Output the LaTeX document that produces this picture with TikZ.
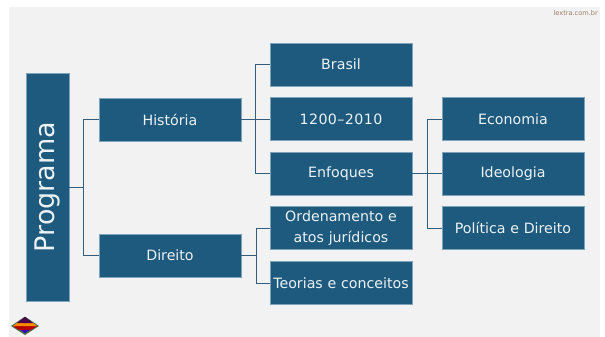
\documentclass[tikz,border=0pt]{standalone}
\usepackage{fontspec}
\setmainfont{DejaVu Sans}
\definecolor{boxblue}{HTML}{1D5A7E}
\definecolor{boxedge}{HTML}{7FA3BA}
\definecolor{linkblue}{HTML}{2F5F80}
\definecolor{bgray}{HTML}{F2F2F2}
\definecolor{lextra}{HTML}{9A7B5F}
\tikzset{
  x=1pt,y=-1pt,
  prog/.style={draw=boxedge,line width=0.6pt,fill=boxblue,text=white!92!boxblue,inner sep=0pt,align=center,font=\fontsize{14.2}{21.5}\selectfont},
  boxa/.style={prog,minimum width=142pt,minimum height=43pt,text width=141pt},
  link/.style={draw=linkblue,line width=0.9pt},
}
\begin{document}
\begin{tikzpicture}
\useasboundingbox (0,0) rectangle (605,337);
\fill[white] (0,0) rectangle (605,337);
\fill[bgray] (9,7) rectangle (600,337);
\node[font=\fontsize{6.6}{8}\selectfont,text=lextra,anchor=east,inner sep=0pt] (brand) at (598,13) {lextra.com.br};
\node[prog,minimum width=228pt,minimum height=43pt,rotate=90,font=\fontsize{27}{32}\selectfont] (programa) at (47.5,187) {Programa};
\node[boxa] (historia) at (170,119.5) {História};
\node[boxa] (direito) at (170,255.5) {Direito};
\node[boxa] (brasil) at (341,64.5) {Brasil};
\node[boxa] (anos) at (341,119) {\addfontfeature{LetterSpace=3}1200–2010};
\node[boxa] (enfoques) at (341,173.5) {Enfoques};
\node[boxa] (ordenamento) at (341,228) {Ordenamento e\\atos jurídicos};
\node[boxa] (teorias) at (341,283) {Teorias e conceitos};
\node[boxa] (economia) at (513,119) {Economia};
\node[boxa] (ideologia) at (513,173.5) {Ideologia};
\node[boxa] (politica) at (513,228) {Política e Direito};
\foreach \t in {historia,direito}
  \draw[link] (programa.south) -- (83,0 |- programa.south) |- (\t.west);
\foreach \s/\t/\b in {historia/brasil/255,historia/anos/255,historia/enfoques/255,direito/ordenamento/256,direito/teorias/256,enfoques/economia/427,enfoques/ideologia/427,enfoques/politica/427}
  \draw[link] (\s.east) -- (\b,0 |- \s.east) |- (\t.west);
\fill[green!20!black!70] (11,326) -- (25,316.5) -- (39,326) -- (25,335) -- cycle;
\fill[blue!60!violet] (14,326) -- (36,326) -- (25,333) -- cycle;
\fill[red!70!black] (13,326) -- (37,326) -- (31,330) -- (19,330) -- cycle;
\fill[orange!90!yellow] (17,323) -- (33,323) -- (37,326) -- (13,326) -- cycle;
\fill[violet!60!black] (25,317) -- (33,323) -- (17,323) -- cycle;
\end{tikzpicture}
\end{document}
